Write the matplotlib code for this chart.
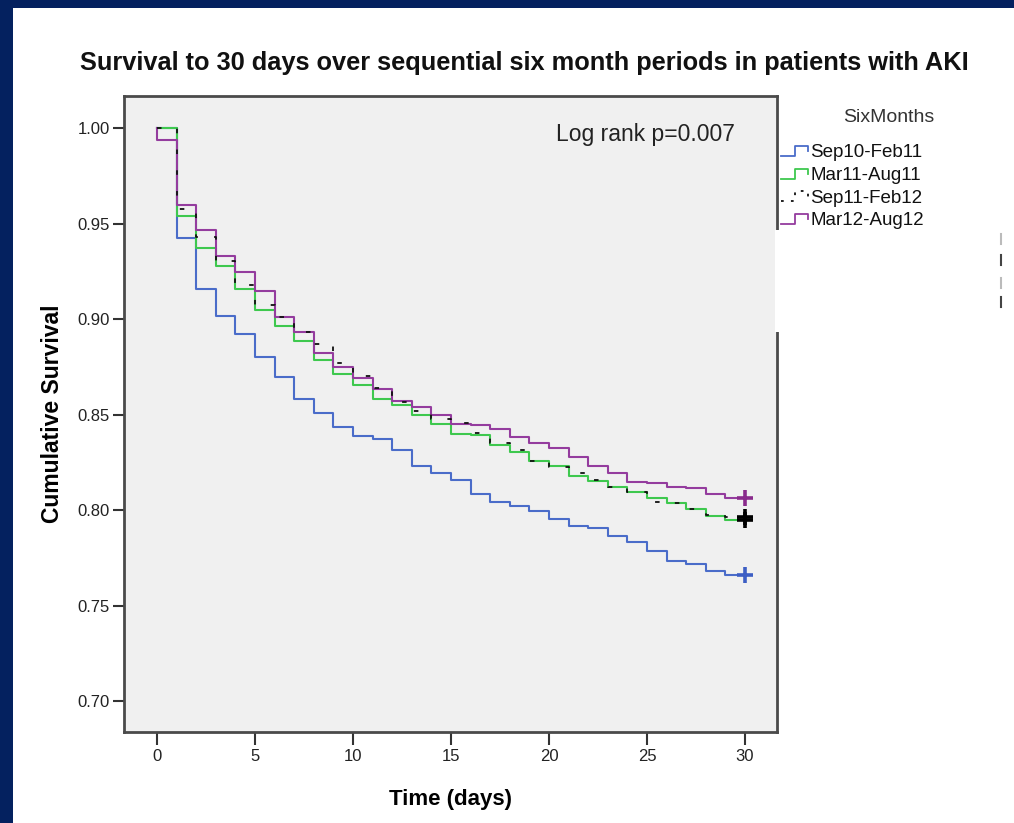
import numpy as np
import matplotlib
matplotlib.use("Agg")
import matplotlib.pyplot as plt
from matplotlib.lines import Line2D
from matplotlib.patches import Rectangle
from matplotlib.legend_handler import HandlerBase

plt.rcParams['font.family'] = ['Liberation Sans', 'DejaVu Sans']

# Kaplan-Meier levels, one per interval [k, k+1), k = 0..29
days = np.arange(0, 31)
groups = ['Sep10-Feb11', 'Mar11-Aug11', 'Sep11-Feb12', 'Mar12-Aug12']
sep10_feb11 = [1.000, 0.9426, 0.9157, 0.9014, 0.8920, 0.8800, 0.8698, 0.8580, 0.8506, 0.8436,
               0.8386, 0.8374, 0.8314, 0.8232, 0.8194, 0.8158, 0.8086, 0.8042, 0.8023, 0.7996,
               0.7951, 0.7916, 0.7904, 0.7864, 0.7834, 0.7787, 0.7735, 0.7717, 0.7681, 0.7660]
mar11_aug11 = [1.000, 0.9539, 0.9370, 0.9277, 0.9155, 0.9050, 0.8963, 0.8885, 0.8785, 0.8710,
               0.8654, 0.8580, 0.8550, 0.8497, 0.8450, 0.8400, 0.8393, 0.8340, 0.8306, 0.8257,
               0.8230, 0.8178, 0.8152, 0.8123, 0.8097, 0.8062, 0.8035, 0.8003, 0.7969, 0.7948]
sep11_feb12 = [1.000, 0.9574, 0.9429, 0.9305, 0.9178, 0.9073, 0.9009, 0.8930, 0.8869, 0.8770,
               0.8700, 0.8640, 0.8564, 0.8520, 0.8476, 0.8454, 0.8405, 0.8350, 0.8314, 0.8257,
               0.8227, 0.8196, 0.8157, 0.8120, 0.8097, 0.8044, 0.8035, 0.8003, 0.7972, 0.7962]
mar12_aug12 = [0.9937, 0.9595, 0.9466, 0.9331, 0.9248, 0.9148, 0.9012, 0.8934, 0.8820, 0.8750,
               0.8690, 0.8633, 0.8570, 0.8538, 0.8497, 0.8450, 0.8445, 0.8424, 0.8380, 0.8353,
               0.8323, 0.8276, 0.8230, 0.8192, 0.8149, 0.8140, 0.8123, 0.8114, 0.8084, 0.8062]
xticks = [0, 5, 10, 15, 20, 25, 30]
yticks = [0.70, 0.75, 0.80, 0.85, 0.90, 0.95, 1.00]

colors = ['#4a6cc9', '#3ec84e', '#111111', '#943c9e']
cens_colors = ['#3d5ec4', '#000000', '#000000', '#8a2b8c']
dash = (0, (2.5, 9))
styles = ['-', '-', dash, '-']

fig = plt.figure(figsize=(10.14, 8.23), dpi=100)
fig.patch.set_facecolor('#04215f')
fig.add_artist(Rectangle((13 / 1014, 0), 1, 1 - 8 / 823, transform=fig.transFigure,
                         facecolor='white', edgecolor='none', zorder=0))

ax = fig.add_axes([124 / 1014, 1 - 732 / 823, 653 / 1014, 636 / 823])
ax.set_facecolor('#f0f0f0')

series = [sep10_feb11, mar11_aug11, sep11_feb12, mar12_aug12]
order = [0, 1, 3, 2]
for i in order:
    lv = series[i]
    x = np.concatenate([[0], days])
    y = np.concatenate([[1.0], lv, [lv[-1]]])
    lw = 1.3 if i == 2 else 1.5
    ax.step(x, y, where='post', color=colors[i], lw=lw, linestyle=styles[i], zorder=3 + (i == 2))
# censored markers at day 30 (green hidden under black)
for i in [0, 1, 2, 3]:
    ax.plot(days[-1], series[i][-1], marker='+', ms=11, mew=2.6, color=cens_colors[i],
            linestyle='none', zorder=5)

ax.set_xlim(-1.68, 31.63)
ax.set_ylim(0.6838, 1.0168)
ax.set_xticks(xticks)
ax.set_yticks(yticks)
ax.set_yticklabels([f'{v:.2f}' for v in yticks])
ax.tick_params(axis='both', direction='out', colors='#333333', labelcolor='#222222', labelsize=12, width=1.5)
ax.tick_params(axis='y', length=8, pad=2)
ax.tick_params(axis='x', length=9, pad=3)
for s in ax.spines.values():
    s.set_color('#4a4a4a')
    s.set_linewidth(2)

ax.set_xlabel('Time (days)', fontsize=16, fontweight='bold', labelpad=18)
ax.set_ylabel('Cumulative Survival', fontsize=16.5, fontweight='bold', labelpad=10)
ax.text(0.9357, 0.9387, 'Log rank p=0.007', transform=ax.transAxes, ha='right', va='center',
        fontsize=16.5, color='#222222')

fig.text(0.517, 1 - 63 / 823, 'Survival to 30 days over sequential six month periods in patients with AKI',
         ha='center', va='center', fontsize=18.3, fontweight='bold', color='#111111')


class StepHandler(HandlerBase):
    def create_artists(self, legend, orig_handle, xdescent, ydescent, width, height, fontsize, trans):
        w = width
        h = height
        xs = [-xdescent, -xdescent + 0.5 * w, -xdescent + 0.5 * w, -xdescent + w, -xdescent + w]
        ys = [-ydescent + 0.1 * h, -ydescent + 0.1 * h, -ydescent + 0.85 * h, -ydescent + 0.85 * h,
              -ydescent + 0.45 * h]
        ln = Line2D(xs, ys, color=orig_handle.get_color(), lw=1.3,
                    linestyle=orig_handle.get_linestyle(), transform=trans)
        if orig_handle.get_linestyle() not in ('-', 'solid'):
            ln.set_dashes((1.5, 4))
        return [ln]


handles = [Line2D([], [], color=colors[i], linestyle=styles[i]) for i in range(4)]
leg = fig.legend(handles, groups, loc='upper left', bbox_to_anchor=(781 / 1014, 1 - 144 / 823),
                 fontsize=13.5, frameon=False,
                 handler_map={Line2D: StepHandler()}, handlelength=1.45, handletextpad=0.1,
                 labelspacing=0.3, borderaxespad=0, borderpad=0)
for t in leg.get_texts():
    t.set_color('#111111')
fig.text(889 / 1014, 1 - 117 / 823, 'SixMonths', ha='center', va='center', fontsize=14, color='#333333')

# white panel left by the hidden censor legend, with its tick marks
fig.add_artist(Rectangle((775 / 1014, 1 - 332 / 823), 237 / 1014, 102 / 823, transform=fig.transFigure,
                         facecolor='white', edgecolor='none', zorder=6))
for k, y0 in enumerate([234, 255, 278, 297]):
    fig.add_artist(Line2D([1001 / 1014, 1001 / 1014], [1 - y0 / 823, 1 - (y0 + 10) / 823],
                          transform=fig.transFigure, color='#444444' if k % 2 else '#bbbbbb',
                          lw=1.5, zorder=7))

fig.savefig('out.png', dpi=100)
